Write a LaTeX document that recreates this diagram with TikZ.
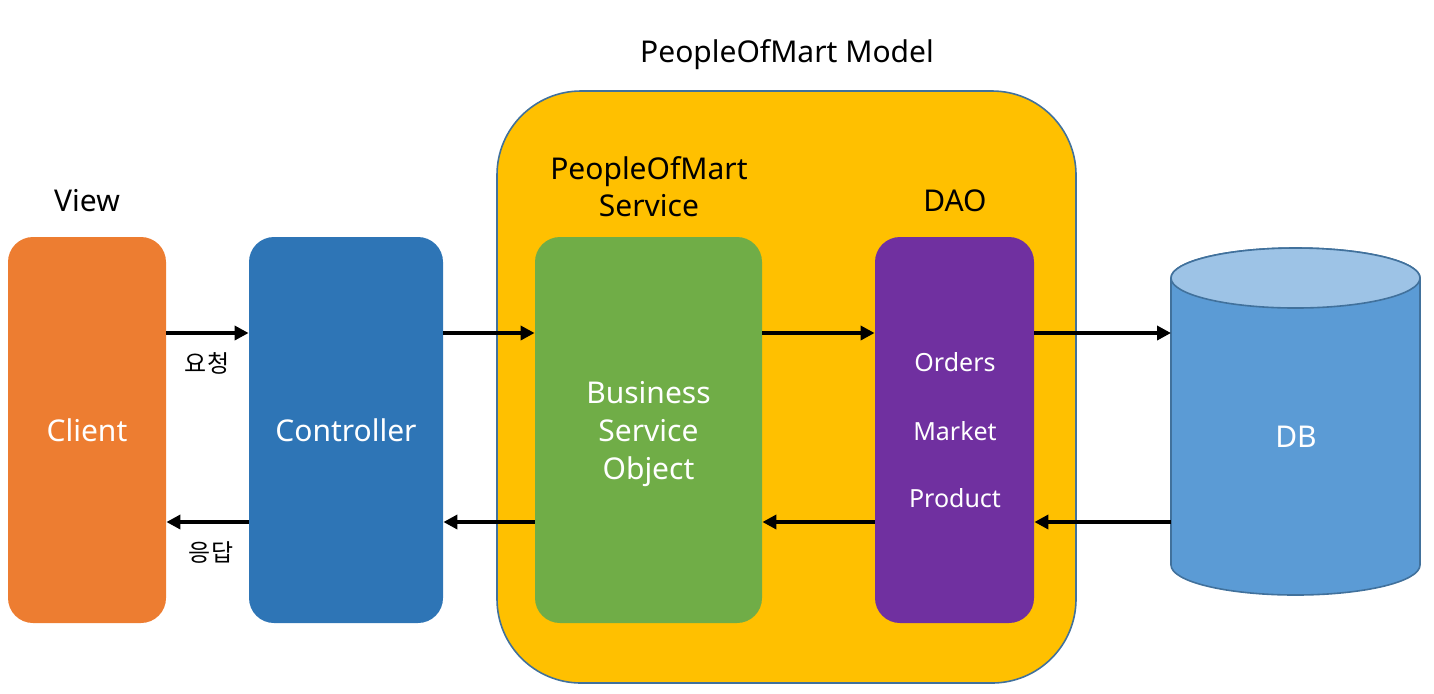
\documentclass[tikz,border=0pt]{standalone}
\usepackage{fontspec}
\setmainfont{Noto Sans}
\newfontfamily\krfont{Noto Sans CJK KR}
\usepackage{tikz}
\usetikzlibrary{positioning,arrows.meta,shapes.geometric}
\definecolor{clientorange}{HTML}{ED7D31}
\definecolor{ctrlblue}{HTML}{2E75B6}
\definecolor{bizgreen}{HTML}{70AD47}
\definecolor{daopurple}{HTML}{7030A0}
\definecolor{modelgold}{HTML}{FFC000}
\definecolor{dbblue}{HTML}{5B9BD5}
\definecolor{dbtop}{HTML}{9DC3E6}
\definecolor{edgeblue}{HTML}{41719C}
\tikzset{
  block/.style={rectangle, rounded corners=12.5pt, draw=none, text=white,
                minimum height=193pt, align=center, font=\fontsize{15}{19}\selectfont},
  orange/.style={fill=clientorange},
  blue/.style={fill=ctrlblue},
  green/.style={fill=bizgreen},
  purple/.style={fill=daopurple},
  modelbox/.style={rectangle, rounded corners=42pt, draw=edgeblue, line width=0.8pt, fill=modelgold},
  title/.style={font=\fontsize{15}{18.5}\selectfont, align=center},
  small/.style={font=\fontsize{12.5}{16}\selectfont, text=white},
  kor/.style={font=\krfont\fontsize{12}{14}\selectfont},
  fwd/.style={-{Triangle[length=7pt,width=7pt]}, line width=2pt},
}

\begin{document}
\begin{tikzpicture}[x=0.5pt,y=0.5pt]
\useasboundingbox (0,0) rectangle (1434,-693);

%Model
\node[modelbox, minimum width=289.5pt, minimum height=296pt] (model) at (786.5,-387) {};
\node[title] (modellbl) at (787,-55) {PeopleOfMart\ Model};

%Nodes
\node[block, orange, minimum width=79pt] (client) at (87,-430) {Client};
\node[block, blue, minimum width=97pt] (ctrl) at (346,-430) {Controller};
\node[block, green, minimum width=113.5pt, text depth=-4pt] (biz) at (648.5,-430) {Business\\Service\\Object};
\node[block, purple, minimum width=79.5pt] (dao) at (954.5,-430) {};
\node[small] (orders) at (955,-362) {Orders};
\node[small] (market) at (955,-431) {Market};
\node[small] (product) at (955,-498) {Product};
\node[rectangle, outer sep=0pt, inner sep=0pt, minimum width=124.5pt, minimum height=173.5pt] (db) at (1295.5,-421.5) {};

%Cylinder
\filldraw[fill=dbblue, draw=edgeblue, line width=0.8pt]
  ([yshift=-15pt]db.north west) -- ([yshift=15pt]db.south west)
  arc[start angle=180, end angle=360, x radius=62.25pt, y radius=15pt]
  -- ([yshift=-15pt]db.north east)
  arc[start angle=0, end angle=180, x radius=62.25pt, y radius=15pt] -- cycle;
\filldraw[fill=dbtop, draw=edgeblue, line width=0.8pt]
  ([yshift=-15pt]db.north) ellipse[x radius=62.25pt, y radius=15pt];
\node[title, text=white] (dblbl) at (1296,-437) {DB};

%Labels
\node[title] (viewlbl) at (87,-201) {View};
\node[title] (svclbl) at (649,-187) {PeopleOfMart\\Service};
\node[title] (daolbl) at (955,-201) {DAO};
\node[kor] (req) at (207,-363) {요청};
\node[kor] (res) at (211,-552) {응답};

%Lines
\coordinate (up) at (0,-333);
\coordinate (dn) at (0,-522);
\draw[fwd] (client.east |- up) -- (ctrl.west |- up);
\draw[fwd] (ctrl.east |- up) -- (biz.west |- up);
\draw[fwd] (biz.east |- up) -- (dao.west |- up);
\draw[fwd] (dao.east |- up) -- (db.west |- up);
\draw[fwd] (ctrl.west |- dn) -- (client.east |- dn);
\draw[fwd] (biz.west |- dn) -- (ctrl.east |- dn);
\draw[fwd] (dao.west |- dn) -- (biz.east |- dn);
\draw[fwd] (db.west |- dn) -- (dao.east |- dn);
\end{tikzpicture}
\end{document}
